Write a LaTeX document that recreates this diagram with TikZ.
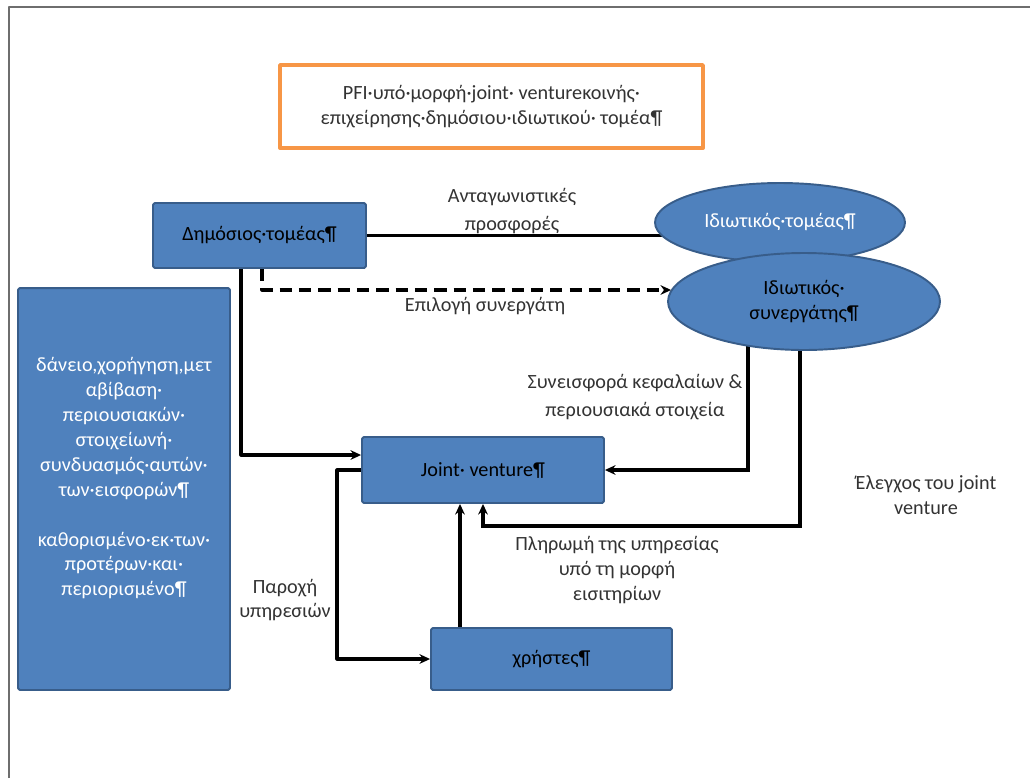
\documentclass[tikz,border=0pt]{standalone}
\usepackage{fontspec}
\setmainfont{Carlito}
\usetikzlibrary{shapes.geometric,arrows.meta,calc,backgrounds}
\definecolor{boxblue}{HTML}{4F81BD}
\definecolor{boxedge}{HTML}{385D8A}
\definecolor{titleorange}{HTML}{F79646}
\definecolor{framegray}{HTML}{6E6E6E}
\begin{document}
\begin{tikzpicture}[x=0.02cm, y=-0.02cm, font=\fontsize{11.5}{14}\selectfont, line join=round, >={Stealth[length=6pt,width=5.5pt]},
		bluebox/.style={draw=boxedge, line width=1.1pt, fill=boxblue, rounded corners=1pt, align=center, inner sep=2pt},
		blueoval/.style={ellipse, draw=boxedge, line width=1.1pt, fill=boxblue, align=center, inner sep=0pt},
		flow/.style={line width=1.8pt},
		lbl/.style={align=center, text=black!80}]
			\useasboundingbox (0,0) rectangle (1030,778);
			\draw[framegray, line width=1.2pt] (9,778) -- (9,7) -- (1030,7);
			\node[draw=titleorange, line width=2.2pt, minimum width=8.46cm, minimum height=1.66cm, align=center, text=black!80] (title) at (491.5,106.5) {PFI·υπό·μορφή·joint· ventureκοινής·\\ επιχείρησης·δημόσιου·ιδιωτικού· τομέα¶};
			\node[bluebox, minimum width=4.26cm, minimum height=1.3cm] (pub) at (259.5,235.5) {Δημόσιος·τομέας¶};
			\node[blueoval, minimum width=5cm, minimum height=1.58cm, text=white] (priv) at (780,222.5) {Ιδιωτικός·τομέας¶};
			\node[blueoval, minimum width=5.44cm, minimum height=1.94cm] (partner) at (804,301.5) {Ιδιωτικός·\\συνεργάτης¶};
			\node[bluebox, minimum width=4.24cm, minimum height=8.04cm, text=white, font=\fontsize{11.5}{14.2}\selectfont] (funds) at (124,489) {δάνειο,χορήγηση,μετ\\αβίβαση·\\περιουσιακών·\\στοιχείωνή·\\συνδυασμός·αυτών·\\των·εισφορών¶\\ \\καθορισμένο·εκ·των·\\προτέρων·και·\\περιορισμένο¶\\ \mbox{}};
			\node[bluebox, minimum width=4.84cm, minimum height=1.32cm] (jv) at (483,470) {Joint· venture¶};
			\node[bluebox, minimum width=4.82cm, minimum height=1.24cm] (users) at (551.5,659) {χρήστες¶};
			\begin{scope}[on background layer]
				\draw[flow] (pub.east) -- (pub.east -| priv.center);
				\draw[flow,->] ($(partner.center)+(-56,0)$) |- (jv.east);
				\draw[flow,->] ($(partner.center)+(-4,0)$) |- ($(jv.south)+(0,22)$) -- (jv.south);
			\end{scope}
			\draw[flow, dash pattern=on 7pt off 4pt, ->] ($(pub.south)+(2.5,0)$) |- ($(partner.west)+(4,-11.5)$);
			\draw[flow,->] ($(pub.south)+(-18.5,0)$) |- ($(jv.west)+(0,-15)$);
			\draw[flow,->] (jv.west) -- ++(-24,0) |- (users.west);
			\draw[flow,->] ($(users.north)+(-91.5,0)$) -- ($(jv.south)+(-23,0)$);
			\node[lbl, font=\fontsize{11.5}{16}\selectfont] (bids) at (512,211) {Ανταγωνιστικές\\προσφορές};
			\node[lbl] (choice) at (485,306) {Επιλογή συνεργάτη};
			\node[lbl, font=\fontsize{11.5}{16}\selectfont] (capital) at (635,397) {Συνεισφορά κεφαλαίων \&\\περιουσιακά στοιχεία};
			\node[lbl] (payment) at (617,570) {Πληρωμή της υπηρεσίας\\υπό τη μορφή\\εισιτηρίων};
			\node[lbl] (control) at (926,495) {Έλεγχος του joint\\venture};
			\node[lbl] (supply) at (285,600) {Παροχή\\υπηρεσιών};
		\end{tikzpicture}
\end{document}
